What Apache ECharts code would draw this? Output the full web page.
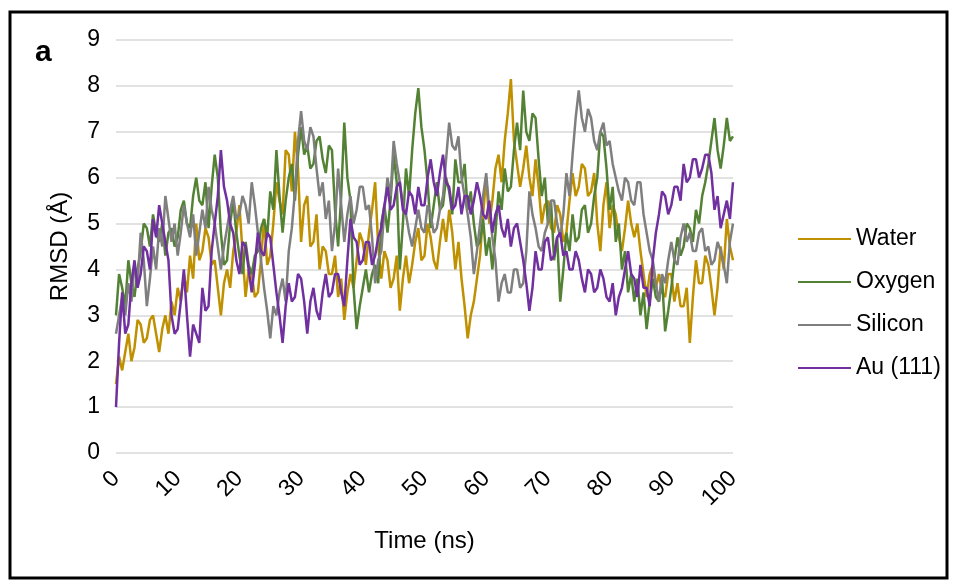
<!DOCTYPE html>
<html>
<head>
<meta charset="utf-8">
<title>RMSD</title>
<script src="https://cdn.jsdelivr.net/npm/echarts@6/dist/echarts.min.js"></script>
<style>
  html, body { margin: 0; padding: 0; background: #fff; }
  #chart { width: 957px; height: 581px; }
</style>
</head>
<body>
<div id="chart"></div>
<script>
// RMSD (Å) every 0.5 ns, 0..100 ns
const STEP_NS = 0.5;
const seriesNames = ['Water', 'Oxygen', 'Silicon', 'Au (111)'];
const seriesColors = ['#BF9000', '#548235', '#7F7F7F', '#7030A0'];
const yTicks = [0, 9, 1];
const xTicks = [0, 100, 10];

const water = [
  1.5, 2.1, 1.8, 2.2, 2.6, 2.0, 2.3, 2.9, 2.8, 2.4,
  2.5, 2.9, 3.0, 2.6, 2.2, 2.7, 3.0, 2.6, 3.3, 3.0,
  3.6, 3.3, 3.9, 3.5, 4.3, 3.8, 5.0, 4.2, 4.4, 4.9,
  4.7, 4.1, 4.2, 3.6, 3.0, 3.7, 4.0, 3.6, 4.4, 4.8,
  5.4, 4.4, 3.4, 4.0, 3.9, 3.4, 3.5, 4.2, 5.1, 4.1,
  4.3, 5.0, 5.9, 5.5, 5.2, 6.6, 6.5, 5.7, 7.0, 6.2,
  4.6, 5.4, 5.6, 4.5, 4.6, 5.2, 4.0, 4.5, 4.4, 3.9,
  3.9, 4.3, 3.4, 3.8, 2.9, 3.5, 3.9, 3.6, 4.2, 4.8,
  4.6, 4.1, 4.8, 5.3, 5.9, 4.5, 3.8, 4.4, 4.2, 3.6,
  3.8, 4.3, 3.1, 3.8, 4.3, 3.7, 4.1, 4.6, 4.9, 4.2,
  4.3, 5.0, 4.7, 4.2, 4.0, 4.6, 5.1, 4.6, 5.3, 4.8,
  4.0, 4.6, 3.8, 3.2, 2.5, 3.0, 3.3, 3.8, 4.3, 5.2,
  6.0, 5.0, 5.5, 6.2, 6.5, 5.9, 6.8, 7.4, 8.15, 6.8,
  6.3, 5.8, 6.2, 6.7, 6.0, 5.6, 6.4, 5.8, 5.0, 5.4,
  5.5, 4.9, 4.8, 5.4, 5.2, 4.6, 4.8, 5.5, 6.1, 5.6,
  5.8, 6.3, 6.2, 5.6, 5.7, 6.1, 5.0, 4.4, 5.4, 5.9,
  4.9, 5.4, 5.2, 4.7, 4.4, 4.9, 5.5, 5.0, 4.7, 5.0,
  4.4, 3.9, 3.4, 3.9, 4.1, 3.6, 3.9, 3.5, 3.4, 3.9,
  3.9, 3.3, 3.7, 3.2, 3.2, 3.6, 2.4, 3.4, 4.2, 3.7,
  3.7, 4.3, 4.1, 3.6, 3.0, 3.6, 4.5, 4.0, 5.1, 4.5,
  4.2
];
const oxygen = [
  3.0, 3.9, 3.6, 3.2, 4.2, 3.7, 3.4, 4.0, 4.4, 5.0,
  4.9, 4.5, 5.2, 4.8, 4.6, 5.0, 4.3, 4.8, 4.9, 4.5,
  4.7, 5.3, 5.5, 5.0, 4.9, 5.6, 6.0, 5.5, 5.4, 5.9,
  4.9, 5.8, 6.5, 6.0, 4.8, 4.1, 4.2, 5.0, 5.5, 4.8,
  4.3, 3.9, 4.6, 4.1, 3.9, 4.3, 4.4, 4.9, 5.1, 4.7,
  5.7, 5.3, 6.6, 5.6, 4.8, 5.5, 6.0, 6.3, 5.5, 6.5,
  7.1, 6.5, 6.7, 6.2, 6.3, 6.8, 6.9, 6.4, 6.1, 6.7,
  6.6, 5.3, 4.5, 5.6, 7.2, 6.0, 5.5, 3.6, 2.7, 3.2,
  3.6, 4.0, 3.5, 3.9, 4.1, 3.7, 5.0, 5.4, 4.8, 5.5,
  6.5, 5.9, 4.0, 5.0, 6.2, 5.6, 6.6, 7.4, 7.95, 7.1,
  6.6, 5.9, 4.9, 5.4, 5.9, 5.3, 5.4, 6.0, 5.7, 5.2,
  6.4, 5.9, 5.9, 6.3, 5.3, 5.7, 5.0, 4.5, 4.6, 5.1,
  4.3, 4.7, 4.0, 4.8, 5.7, 5.3, 6.2, 5.7, 5.8, 6.6,
  7.2, 6.6, 7.9, 7.0, 6.8, 7.4, 7.3, 6.4, 5.6, 6.0,
  5.0, 5.5, 4.2, 4.7, 3.3, 4.0, 4.8, 4.4, 5.2, 4.6,
  4.7, 5.3, 5.4, 4.8, 5.0, 5.6, 6.0, 7.0, 6.9, 6.2,
  5.3, 5.8, 4.6, 5.0, 4.0, 4.4, 3.5, 3.9, 3.3, 3.8,
  3.0, 3.5, 2.7, 3.3, 3.8, 3.4, 3.3, 3.8, 2.65, 3.1,
  3.6, 4.2, 4.7, 4.3, 4.5, 5.0, 4.9, 4.6, 5.3, 5.0,
  5.6, 5.9, 6.3, 6.8, 7.3, 6.6, 6.2, 6.7, 7.3, 6.8,
  6.9
];
const silicon = [
  2.6, 3.0, 3.4, 3.0, 3.7, 3.3, 4.1, 3.7, 4.8, 4.2,
  3.2, 3.8, 4.5, 4.0, 4.9, 4.5, 5.6, 5.1, 4.6, 5.0,
  4.3, 4.8, 5.4, 5.0, 4.7, 5.2, 4.3, 4.8, 5.3, 4.9,
  5.8, 5.3, 5.0, 4.5, 4.0, 4.5, 4.9, 5.3, 5.6, 5.1,
  5.2, 5.6, 5.4, 5.0, 5.9, 5.4, 4.8, 4.2, 3.6, 3.1,
  2.5, 3.2, 3.0, 3.5, 3.8, 3.3, 4.4, 4.9, 5.7, 6.8,
  7.45, 6.8, 6.6, 7.1, 6.9, 6.2, 5.6, 5.9, 5.1, 5.5,
  4.4, 5.0, 6.2, 5.4, 4.6, 5.2, 5.6, 5.0, 5.3, 5.8,
  5.8, 5.3, 5.4, 4.7, 3.7, 4.2, 4.4, 5.3, 6.0, 5.6,
  6.8, 6.3, 5.9, 5.4, 5.2, 4.8, 4.5, 4.9, 5.3, 4.9,
  4.8, 5.4, 5.2, 4.8, 4.9, 5.3, 5.6, 6.4, 7.2, 6.7,
  6.6, 6.9, 6.0, 5.6, 5.2, 4.7, 3.9, 4.4, 5.0, 5.6,
  6.1, 5.3, 4.7, 4.2, 3.3, 3.7, 3.9, 3.5, 3.5, 4.0,
  4.0, 3.6, 3.7, 4.4, 5.7, 5.2, 4.9, 4.5, 4.4, 4.8,
  5.0, 5.5, 5.5, 5.0, 4.7, 5.2, 6.1, 5.6, 6.5, 7.3,
  7.9, 7.3, 7.0, 7.5, 7.3, 6.8, 6.6, 7.0, 7.2, 6.7,
  6.8, 6.3, 6.0, 5.7, 5.5, 6.0, 5.9, 5.5, 5.4, 5.9,
  5.9, 5.2, 4.8, 4.4, 4.2, 3.7, 3.3, 3.9, 3.7, 4.2,
  4.6, 4.2, 4.1, 4.7, 5.0, 4.6, 4.8, 4.4, 4.4, 4.8,
  4.9, 4.4, 4.5, 4.1, 4.2, 4.6, 4.4, 4.1, 3.7, 4.6,
  5.0
];
const au111 = [
  1.0, 2.4, 3.5, 2.6, 2.8, 3.7, 4.2, 3.6, 3.9, 4.5,
  4.4, 4.0, 5.1, 4.7, 5.4, 5.0, 4.6, 4.2, 3.0, 2.6,
  2.7, 3.3, 4.0, 3.0, 2.1, 2.8, 2.6, 2.4, 3.6, 3.1,
  3.2, 4.4, 5.0, 5.6, 6.6, 5.8, 5.5, 5.0, 4.8, 4.2,
  3.9, 4.6, 4.5, 4.0, 3.5, 4.1, 4.8, 4.4, 4.3, 4.8,
  4.7, 4.1, 3.5, 3.0, 2.4, 3.2, 3.7, 3.3, 3.4, 3.9,
  3.8, 3.3, 2.6, 3.3, 3.6, 3.1, 2.9, 3.5, 3.9, 3.4,
  3.5, 3.9, 3.9, 3.5, 3.2, 4.2, 5.1, 4.7, 4.6, 4.1,
  4.2, 4.6, 4.6, 4.1, 4.3, 4.7, 4.9, 5.4, 5.8, 5.3,
  5.4, 5.8, 5.9, 5.3, 5.2, 5.7, 5.6, 5.2, 5.8, 5.4,
  5.4, 6.0, 6.4, 5.9, 5.6, 6.1, 6.5, 5.9, 5.8, 5.3,
  5.4, 5.8, 5.2, 5.6, 5.6, 5.2, 5.5, 5.9, 5.6, 5.2,
  5.1, 5.5, 4.8, 5.2, 5.4, 4.9, 4.7, 5.1, 4.5, 4.9,
  5.0, 4.6, 4.2, 3.7, 3.1, 3.6, 4.4, 4.0, 4.0, 4.6,
  4.7, 4.2, 4.3, 4.7, 4.8, 4.3, 4.4, 4.0, 4.0, 4.4,
  4.2, 3.8, 3.5, 4.0, 3.9, 3.5, 3.6, 4.0, 3.8, 3.4,
  3.3, 3.7, 3.0, 3.4, 3.6, 4.0, 4.4, 3.9, 3.8, 3.4,
  4.1, 3.6, 3.6, 3.2, 4.2, 4.8, 5.2, 5.7, 5.6, 5.2,
  5.4, 5.8, 5.8, 5.5, 6.3, 5.9, 6.0, 6.4, 6.4, 6.0,
  6.2, 6.5, 6.5, 6.1, 5.3, 5.6, 4.9, 5.2, 5.5, 5.1,
  5.9
];

const allValues = [water, oxygen, silicon, au111];
const FONT = 'Liberation Sans, Arial, sans-serif';

function toPairs(values) {
  return values.map((v, i) => [i * STEP_NS, v]);
}

const chart = echarts.init(document.getElementById('chart'), null, { renderer: 'canvas' });
chart.setOption({
  animation: false,
  backgroundColor: '#fff',
  color: seriesColors,
  textStyle: { fontFamily: FONT, color: '#000' },
  graphic: [
    {
      type: 'rect',
      shape: { x: 10, y: 12, width: 937, height: 566 },
      style: { fill: 'none', stroke: '#000', lineWidth: 3 },
    },
    {
      type: 'text',
      left: 35,
      top: 38,
      style: { text: 'a', font: 'bold 30px ' + FONT, fill: '#000' },
    },
  ],
  grid: { left: 116, right: 224, top: 40, bottom: 128 },
  legend: {
    orient: 'vertical',
    left: 793,
    top: 221,
    icon: 'rect',
    itemWidth: 53,
    itemHeight: 2,
    itemGap: 17,
    textStyle: { fontSize: 23, fontFamily: FONT, color: '#000', lineHeight: 26 },
    data: seriesNames,
  },
  xAxis: {
    type: 'value',
    min: xTicks[0],
    max: xTicks[1],
    interval: xTicks[2],
    name: 'Time (ns)',
    nameLocation: 'middle',
    nameGap: 76,
    nameTextStyle: { fontSize: 24, fontFamily: FONT, color: '#000' },
    axisLine: { show: false },
    axisTick: { show: false },
    splitLine: { show: false },
    axisLabel: { rotate: 45, margin: 22, fontSize: 23, fontFamily: FONT, color: '#000' },
  },
  yAxis: {
    type: 'value',
    min: yTicks[0],
    max: yTicks[1],
    interval: yTicks[2],
    name: 'RMSD (Å)',
    nameLocation: 'middle',
    nameGap: 44,
    nameTextStyle: { fontSize: 24, fontFamily: FONT, color: '#000' },
    axisLine: { show: false },
    axisTick: { show: false },
    axisLabel: { margin: 16, fontSize: 23, fontFamily: FONT, color: '#000' },
    splitLine: { lineStyle: { color: '#D9D9D9', width: 1.5 } },
  },
  series: seriesNames.map((name, k) => ({
    name: name,
    type: 'line',
    showSymbol: false,
    symbol: 'none',
    lineStyle: { width: 2.5, color: seriesColors[k] },
    data: toPairs(allValues[k]),
  })),
});
</script>
</body>
</html>
